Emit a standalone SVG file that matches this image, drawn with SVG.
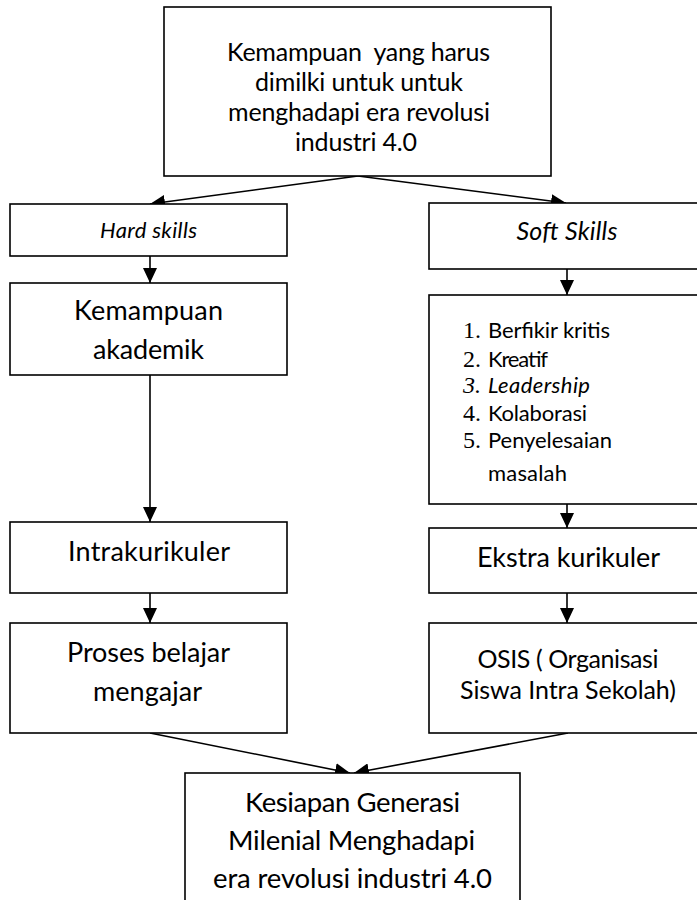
<svg xmlns="http://www.w3.org/2000/svg" width="697" height="900" viewBox="0 0 697 900">
<style>
  .box{fill:#fff;stroke:#000;stroke-width:1.6}
  .t{font-family:Lato,"Open Sans","Liberation Sans",sans-serif;fill:#000;text-anchor:middle}
  .li{font-family:Lato,"Open Sans","Liberation Sans",sans-serif;fill:#000;font-size:22px}
  .num{font-family:"Liberation Serif","DejaVu Serif",serif;font-size:24px}
  .it{font-style:italic}
  .c{fill:none;stroke:#000;stroke-width:1.6}
</style>
<defs>
  <marker id="ah" markerUnits="userSpaceOnUse" markerWidth="16" markerHeight="14" refX="15" refY="7" orient="auto">
    <path d="M0,0 L15,7 L0,14 Z" fill="#000"/>
  </marker>
</defs>
<rect width="697" height="900" fill="#fff"/>

<g id="connectors">
  <line class="c" x1="358" y1="176" x2="150" y2="204" marker-end="url(#ah)"/>
  <line class="c" x1="358" y1="176" x2="566" y2="203" marker-end="url(#ah)"/>
  <line class="c" x1="150" y1="256" x2="150" y2="283" marker-end="url(#ah)"/>
  <line class="c" x1="150" y1="375" x2="150" y2="522" marker-end="url(#ah)"/>
  <line class="c" x1="150" y1="593" x2="150" y2="623" marker-end="url(#ah)"/>
  <line class="c" x1="567" y1="269" x2="567" y2="295" marker-end="url(#ah)"/>
  <line class="c" x1="567" y1="504" x2="567" y2="528" marker-end="url(#ah)"/>
  <line class="c" x1="567" y1="593" x2="567" y2="623" marker-end="url(#ah)"/>
  <line class="c" x1="150" y1="733" x2="350" y2="773" marker-end="url(#ah)"/>
  <line class="c" x1="568" y1="733" x2="354" y2="773" marker-end="url(#ah)"/>
</g>

<g id="top">
  <rect class="box" x="164" y="7" width="387" height="169"/>
  <text class="t" font-size="25" x="358.5" y="61" textLength="263" style="white-space:pre">Kemampuan  yang harus</text>
  <text class="t" font-size="25" x="359" y="91" textLength="208">dimilki untuk untuk</text>
  <text class="t" font-size="25" x="359" y="121" textLength="262">menghadapi era revolusi</text>
  <text class="t" font-size="25" x="356" y="151" textLength="122">industri 4.0</text>
</g>

<g id="hard">
  <rect class="box" x="10" y="204" width="277" height="52"/>
  <text class="t it" font-size="22" x="148.5" y="238" textLength="97">Hard skills</text>
</g>

<g id="akademik">
  <rect class="box" x="10" y="283" width="277" height="92"/>
  <text class="t" font-size="27" x="148.5" y="320" textLength="149">Kemampuan</text>
  <text class="t" font-size="27" x="148.5" y="359" textLength="111">akademik</text>
</g>

<g id="intra">
  <rect class="box" x="10" y="522" width="277" height="71"/>
  <text class="t" font-size="27" x="149" y="561" textLength="162">Intrakurikuler</text>
</g>

<g id="proses">
  <rect class="box" x="10" y="623" width="277" height="110"/>
  <text class="t" font-size="27" x="148.5" y="662" textLength="163">Proses belajar</text>
  <text class="t" font-size="27" x="147.5" y="701" textLength="109">mengajar</text>
</g>

<g id="soft">
  <rect class="box" x="429" y="203" width="272" height="66"/>
  <text class="t it" font-size="25" x="567" y="240" textLength="101">Soft Skills</text>
</g>

<g id="list">
  <rect class="box" x="429" y="295" width="272" height="209"/>
  <text class="li" y="338"><tspan class="num" x="463">1.</tspan><tspan x="488" textLength="122">Berfikir kritis</tspan></text>
  <text class="li" y="367"><tspan class="num" x="463">2.</tspan><tspan x="488" textLength="60">Kreatif</tspan></text>
  <text class="li it" y="393"><tspan class="num" x="463">3.</tspan><tspan x="488" textLength="102">Leadership</tspan></text>
  <text class="li" y="421"><tspan class="num" x="463">4.</tspan><tspan x="488" textLength="99">Kolaborasi</tspan></text>
  <text class="li" y="448"><tspan class="num" x="463">5.</tspan><tspan x="488" textLength="124">Penyelesaian</tspan></text>
  <text class="li" x="488" y="481" textLength="79">masalah</text>
</g>

<g id="ekstra">
  <rect class="box" x="429" y="528" width="272" height="65"/>
  <text class="t" font-size="27" x="568.5" y="567" textLength="183">Ekstra kurikuler</text>
</g>

<g id="osis">
  <rect class="box" x="429" y="623" width="272" height="110"/>
  <text class="t" font-size="25" x="568" y="668" textLength="181">OSIS ( Organisasi</text>
  <text class="t" font-size="25" x="568" y="699" textLength="216">Siswa Intra Sekolah)</text>
</g>

<g id="bottom">
  <rect class="box" x="185" y="773" width="335" height="140"/>
  <text class="t" font-size="27.5" x="352.5" y="812" textLength="215">Kesiapan Generasi</text>
  <text class="t" font-size="27.5" x="351.5" y="850" textLength="247">Milenial Menghadapi</text>
  <text class="t" font-size="27.5" x="352.5" y="888" textLength="279">era revolusi industri 4.0</text>
</g>
</svg>
